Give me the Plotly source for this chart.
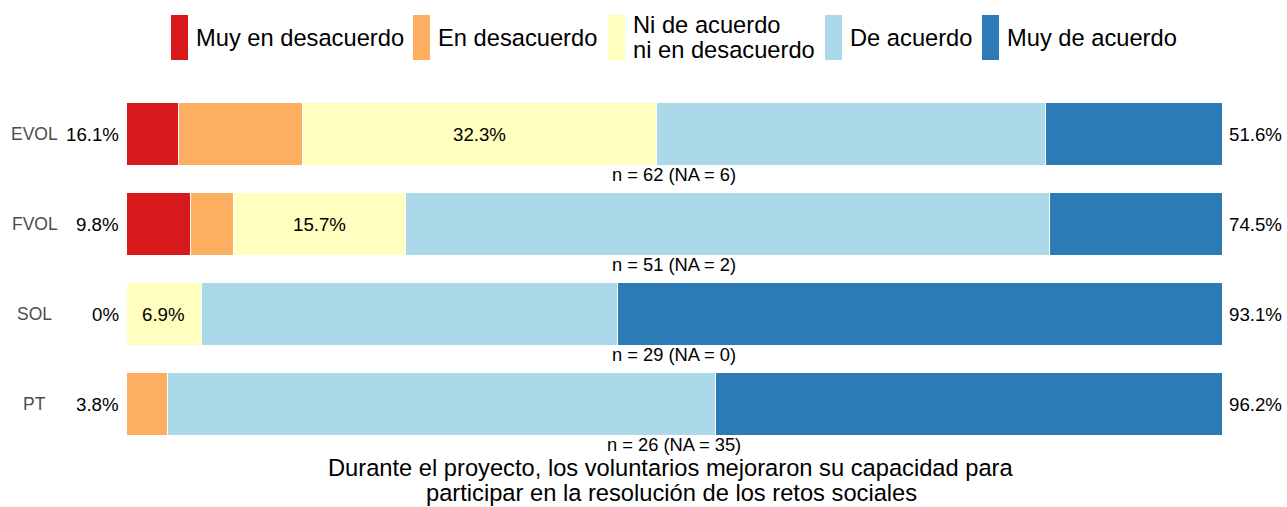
import plotly.graph_objects as go

# Likert responses (percent of valid answers) per group
groups = ["EVOL", "FVOL", "SOL", "PT"]
levels = ["Muy en desacuerdo", "En desacuerdo", "Ni de acuerdo<br>ni en desacuerdo",
          "De acuerdo", "Muy de acuerdo"]
colors = ["#D7191C", "#FDAE61", "#FFFFBF", "#ABD9E9", "#2C7BB6"]

muy_desacuerdo = [4.8, 5.9, 0.0, 0.0]
desacuerdo = [11.3, 3.9, 0.0, 3.8]
neutral = [32.3, 15.7, 6.9, 0.0]
de_acuerdo = [35.5, 58.8, 37.9, 50.0]
muy_de_acuerdo = [16.1, 15.7, 55.2, 46.2]

n_valid = [62, 51, 29, 26]
n_na = [6, 2, 0, 35]

title_lines = ["Durante el proyecto, los voluntarios mejoraron su capacidad para",
               "participar en la resolución de los retos sociales"]

series = [muy_desacuerdo, desacuerdo, neutral, de_acuerdo, muy_de_acuerdo]
FONT = "Liberation Sans, Arial, sans-serif"

W, H = 1287, 507
M_L, M_R, M_T, M_B = 126, 65, 89, 58
PW, PH = W - M_L - M_R, H - M_T - M_B


def px_x(x):
    return (x - M_L) / PW


def px_y(y):
    return (H - M_B - y) / PH


def fmt(v):
    return f"{round(v, 1):g}%"


ypos = list(range(len(groups)))
fig = go.Figure()
for name, vals, col in zip(levels, series, colors):
    fig.add_trace(go.Bar(
        y=ypos, x=vals, orientation="h", name=name.replace("<br>", " "),
        marker=dict(color=col, line=dict(color="white", width=1)),
        showlegend=False, hoverinfo="x+name",
    ))

PCT_FONT = dict(size=18.7, color="black")
annotations = []
for i, g in enumerate(groups):
    low = muy_desacuerdo[i] + desacuerdo[i]
    high = de_acuerdo[i] + muy_de_acuerdo[i]
    # group label, centred in the left gutter
    annotations.append(dict(xref="paper", x=px_x(34.5), y=i, text=g, xanchor="center",
                            yanchor="middle", showarrow=False,
                            font=dict(size=17.5, color="#4D4D4D")))
    annotations.append(dict(x=0, y=i, text=fmt(low), xanchor="right", yanchor="middle",
                            xshift=-5, showarrow=False, font=PCT_FONT))
    annotations.append(dict(x=100, y=i, text=fmt(high), xanchor="left", yanchor="middle",
                            xshift=5, showarrow=False, font=PCT_FONT))
    if neutral[i] > 0:
        annotations.append(dict(x=low + neutral[i] / 2, y=i, text=fmt(neutral[i]),
                                yanchor="middle", showarrow=False, font=PCT_FONT))
    annotations.append(dict(x=50, y=i + 0.455, text=f"n = {n_valid[i]} (NA = {n_na[i]})",
                            yanchor="middle", showarrow=False,
                            font=dict(size=18.3, color="black")))

# axis caption, two lines set tightly
for k, line in enumerate(title_lines):
    annotations.append(dict(xref="paper", yref="paper", x=px_x(671), y=px_y(468 + 25 * k),
                            xanchor="center", yanchor="middle", text=line,
                            showarrow=False, font=dict(size=23.7, color="black")))

# Legend drawn as tall swatches with labels
legend_swatch_x = [171, 413, 608, 825, 982]
shapes = []
for sx, name, col in zip(legend_swatch_x, levels, colors):
    shapes.append(dict(type="rect", xref="paper", yref="paper",
                       x0=px_x(sx), x1=px_x(sx + 17), y0=px_y(60), y1=px_y(15),
                       fillcolor=col, line=dict(width=0)))
    parts = name.split("<br>")
    for k, part in enumerate(parts):
        cy = 37.5 + (k - (len(parts) - 1) / 2) * 25
        annotations.append(dict(xref="paper", yref="paper", x=px_x(sx + 23), y=px_y(cy),
                                xanchor="left", yanchor="middle", align="left",
                                text=part, showarrow=False,
                                font=dict(size=23.7, color="black")))

fig.update_layout(
    width=W, height=H,
    margin=dict(l=M_L, r=M_R, t=M_T, b=M_B, autoexpand=False),
    barmode="stack", bargap=0.31,
    plot_bgcolor="white", paper_bgcolor="white",
    font=dict(family=FONT, color="black"),
    xaxis=dict(range=[0, 100], showgrid=False, zeroline=False,
               showticklabels=False, ticks="", fixedrange=True),
    yaxis=dict(range=[len(groups) - 0.5, -0.5], showgrid=False, zeroline=False,
               showticklabels=False, ticks="", fixedrange=True),
    annotations=annotations, shapes=shapes,
)

fig.write_html("out.html")
